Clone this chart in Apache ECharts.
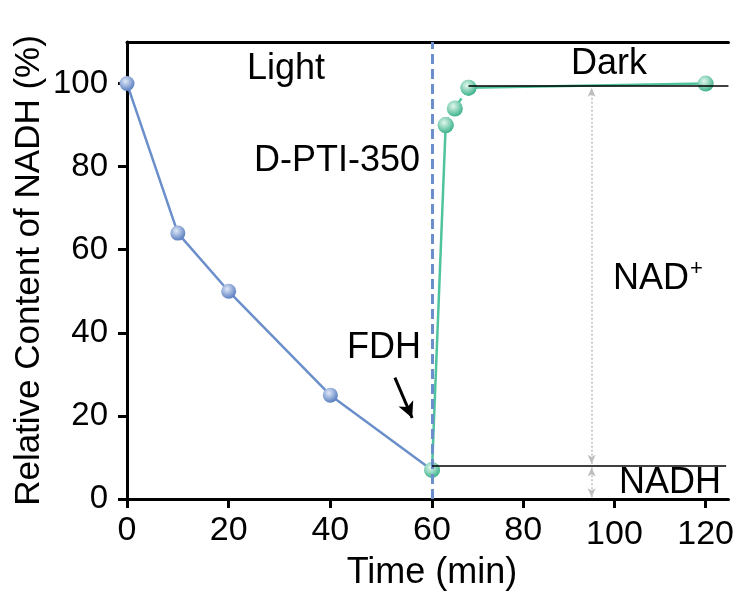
<!DOCTYPE html>
<html>
<head>
<meta charset="utf-8">
<script src="https://cdn.jsdelivr.net/npm/echarts@6/dist/echarts.min.js"></script>
<style>
  html, body { margin: 0; padding: 0; background: #fff; }
  #main { width: 737px; height: 597px; }
</style>
</head>
<body>
<div id="main"></div>
<script>
var chart = echarts.init(document.getElementById('main'));

// data
var lightTime = [0, 10, 20, 40, 60];
var lightNADH = [100, 64, 50, 25, 7];
var darkTime = [60, 63, 65, 68, 120];
var darkNADH = [7, 90, 94, 99, 100];
var yTicks = [0, 20, 40, 60, 80, 100];
var nadhLevel = 8;      // lower reference line
var nadLevel = 99.5;    // upper reference line
var arrowTime = 95;     // grey double arrow
var fdhArrow = [[52.7, 29.2], [56.1, 19.5]];

var font = 'Liberation Sans, Arial, sans-serif';
var blue = '#6B8FCB';
var green = '#4FC39D';

function ball(c0, c1) {
  return {
    type: 'radial', x: 0.4, y: 0.35, r: 0.65,
    colorStops: [{ offset: 0, color: c0 }, { offset: 1, color: c1 }]
  };
}

function pairs(xs, ys) {
  return xs.map(function (x, i) { return [x, ys[i]]; });
}

var darkPts = pairs(darkTime, darkNADH);
// solid parts: 60->63 and 68->120, dashed part 63->68
var darkSolid = [darkPts[0], darkPts[1], '-', darkPts[3], darkPts[4]];
var darkDashed = [darkPts[1], darkPts[2], darkPts[3]];

var xLabelCommon = {
  color: '#000', fontSize: 34, fontFamily: font, margin: 15,
  formatter: function (v) { return v >= 100 ? '{lo|' + v + '}' : String(v); },
  rich: { lo: { fontSize: 34, fontFamily: font, color: '#000', padding: [4, 0, 0, 0] } }
};

function note(text, x, y) {
  return {
    type: 'text', x: x, y: y,
    style: { text: text, font: '36px ' + font, fill: '#000', align: 'center', verticalAlign: 'middle' }
  };
}

option = {
  animation: false,
  backgroundColor: '#fff',
  grid: [
    { left: 127, width: 305, top: 42, bottom: 98 },
    { left: 432, right: 0, top: 42, bottom: 98 }
  ],
  xAxis: [
    {
      type: 'value', gridIndex: 0, min: 0, max: 60, interval: 20,
      name: 'Time (min)', nameLocation: 'middle', nameGap: 56,
      nameTextStyle: { color: '#000', fontSize: 36, fontFamily: font, padding: [0, 0, 0, 305] },
      axisLine: { lineStyle: { color: '#000', width: 3 } },
      axisTick: { length: 9, lineStyle: { color: '#000', width: 3 } },
      axisLabel: xLabelCommon,
      splitLine: { show: false }
    },
    {
      type: 'value', gridIndex: 1, min: 60, max: 125, interval: 20,
      axisLine: { lineStyle: { color: '#000', width: 3 } },
      axisTick: { length: 9, lineStyle: { color: '#000', width: 3 }, customValues: [60, 80, 100, 120] },
      axisLabel: Object.assign({}, xLabelCommon, { customValues: [80, 100, 120] }),
      splitLine: { show: false }
    },
    {
      type: 'value', gridIndex: 0, position: 'top', min: 0, max: 60,
      axisLine: { lineStyle: { color: '#000', width: 3 } },
      axisTick: { show: false }, axisLabel: { show: false }, splitLine: { show: false }
    },
    {
      type: 'value', gridIndex: 1, position: 'top', min: 60, max: 125,
      axisLine: { lineStyle: { color: '#000', width: 3 } },
      axisTick: { show: false }, axisLabel: { show: false }, splitLine: { show: false }
    }
  ],
  yAxis: [
    {
      type: 'value', gridIndex: 0, min: 0, max: 110,
      name: 'Relative Content of NADH (%)', nameLocation: 'middle', nameGap: 80,
      nameTextStyle: { color: '#000', fontSize: 35, fontFamily: font },
      axisLine: { show: true, lineStyle: { color: '#000', width: 3 } },
      axisTick: { length: 9, lineStyle: { color: '#000', width: 3 }, customValues: yTicks },
      axisLabel: { color: '#000', fontSize: 33, fontFamily: font, margin: 19, customValues: yTicks },
      splitLine: { show: false }
    },
    {
      type: 'value', gridIndex: 1, min: 0, max: 110,
      axisLine: { show: false }, axisTick: { show: false },
      axisLabel: { show: false }, splitLine: { show: false }
    }
  ],
  series: [
    {
      name: 'Light', type: 'line', xAxisIndex: 0, yAxisIndex: 0,
      data: pairs(lightTime, lightNADH),
      symbol: 'circle', symbolSize: 15,
      lineStyle: { color: blue, width: 2.5 },
      itemStyle: { color: ball('#dfe8f8', '#5a7fc0') },
      markLine: {
        silent: true, symbol: 'none', label: { show: false },
        lineStyle: { color: blue, width: 3, type: [10, 5] },
        data: [{ xAxis: 60 }]
      },
      z: 3
    },
    {
      name: 'FDH arrow', type: 'line', xAxisIndex: 0, yAxisIndex: 0,
      data: [], silent: true,
      markLine: {
        silent: true, symbol: ['none', 'arrow'], symbolSize: [12, 16],
        label: { show: false },
        lineStyle: { color: '#000', width: 3, type: 'solid' },
        data: [[{ coord: fdhArrow[0] }, { coord: fdhArrow[1] }]]
      }
    },
    {
      name: 'Dark', type: 'line', xAxisIndex: 1, yAxisIndex: 1,
      data: darkSolid, clip: false, connectNulls: false,
      symbol: 'circle', symbolSize: 16,
      lineStyle: { color: green, width: 2.5 },
      itemStyle: { color: ball('#e2f7ee', '#3fb48c') },
      markLine: {
        silent: true, symbol: 'none', label: { show: false },
        lineStyle: { color: '#000', width: 1.5, type: 'solid' },
        data: [
          [{ coord: [68, nadLevel] }, { coord: [125, nadLevel] }],
          [{ coord: [60, nadhLevel] }, { coord: [124.5, nadhLevel] }]
        ]
      },
      z: 4
    },
    {
      name: 'Dark dashed', type: 'line', xAxisIndex: 1, yAxisIndex: 1,
      data: darkDashed, clip: false,
      symbol: 'circle', symbolSize: 16,
      lineStyle: { color: green, width: 2.5, type: [7, 5] },
      itemStyle: { color: ball('#e2f7ee', '#3fb48c') },
      z: 4
    },
    {
      name: 'levels', type: 'line', xAxisIndex: 1, yAxisIndex: 1,
      data: [], silent: true,
      markLine: {
        silent: true, symbol: ['arrow', 'arrow'], symbolSize: [6, 9],
        label: { show: false },
        lineStyle: { color: '#bdbdbd', width: 1.5, type: [2, 2] },
        data: [
          [{ coord: [arrowTime, nadhLevel + 0.5] }, { coord: [arrowTime, nadLevel - 0.5] }],
          [{ coord: [arrowTime, 0.4] }, { coord: [arrowTime, nadhLevel - 0.4] }]
        ]
      }
    }
  ],
  graphic: [
    note('Light', 286, 69),
    note('Dark', 609, 64),
    note('D-PTI-350', 337, 161),
    note('FDH', 384, 348),
    note('NADH', 670, 483),
    {
      type: 'text', x: 613, y: 279,
      style: {
        text: '{a|NAD}{s|+}', verticalAlign: 'middle',
        rich: {
          a: { fontSize: 36, fontFamily: font, fill: '#000', color: '#000' },
          s: { fontSize: 22, fontFamily: font, fill: '#000', color: '#000', padding: [0, 0, 20, 1] }
        }
      }
    }
  ]
};

if (option && typeof option === 'object') {
  chart.setOption(option, true);
}
</script>
</body>
</html>
